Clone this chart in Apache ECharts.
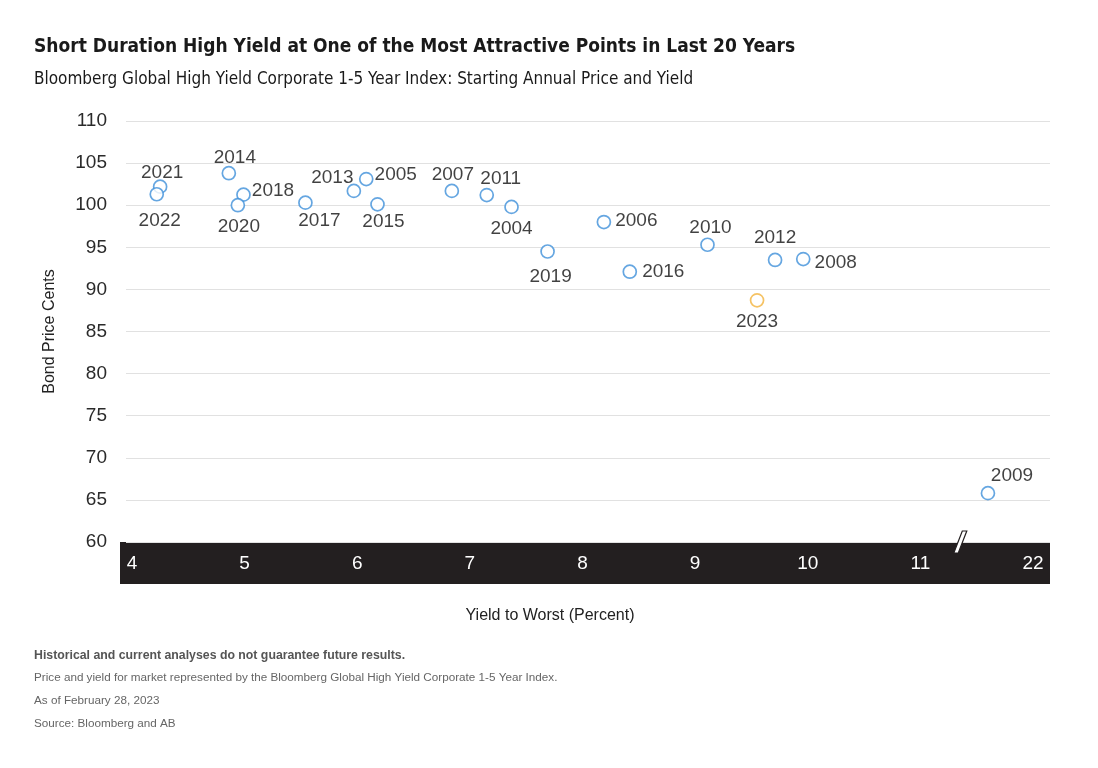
<!DOCTYPE html>
<html>
<head>
<meta charset="utf-8">
<script src="https://cdn.jsdelivr.net/npm/echarts@6/dist/echarts.min.js"></script>
<style>
html,body{margin:0;padding:0;background:#fff;}
#chart{width:1098px;height:768px;}
</style>
</head>
<body>
<div id="chart"></div>
<script>
// ---- data ----
const years   = [2004, 2005, 2006, 2007, 2008, 2009, 2010, 2011, 2012, 2013, 2014, 2015, 2016, 2017, 2018, 2019, 2020, 2021, 2022, 2023];
const yields  = [7.37, 6.08, 8.19, 6.84, 9.96, 21.6, 9.11, 7.15, 9.71, 5.97, 4.86, 6.18, 8.42, 5.54, 4.99, 7.69, 4.94, 4.25, 4.22, 9.55];
const prices  = [99.8, 103.1, 98.0, 101.7, 93.6, 65.8, 95.3, 101.2, 93.5, 101.7, 103.8, 100.1, 92.1, 100.3, 101.25, 94.5, 100.0, 102.2, 101.3, 88.7];
const xTickValues = [4, 5, 6, 7, 8, 9, 10, 11, 22];
const yTicks = {min: 60, max: 110, interval: 5};
const highlightYear = 2023;
// axis break: yields beyond breakAt are shifted left by breakShift
const breakAt = 11.35, breakShift = 10;

// label layout per year (presentation only)
const labelPlacement = {
  2004: {position: 'bottom', offset: [0, 4]},
  2005: {position: 'right', offset: [0, -4]},
  2006: {position: 'right', offset: [3, -1]},
  2007: {position: 'top', offset: [1, 2]},
  2008: {position: 'right', offset: [3, 4]},
  2009: {position: 'top', offset: [24, 0]},
  2010: {position: 'top', offset: [3, 1]},
  2011: {position: 'top', offset: [14, 2]},
  2012: {position: 'top', offset: [0, -4]},
  2013: {position: 'left', offset: [8, -13]},
  2014: {position: 'top', offset: [6, 2]},
  2015: {position: 'bottom', offset: [6, 0]},
  2016: {position: 'right', offset: [4, 0]},
  2017: {position: 'bottom', offset: [14, 0]},
  2018: {position: 'right', offset: [0, -4]},
  2019: {position: 'bottom', offset: [3, 7]},
  2020: {position: 'bottom', offset: [1, 4]},
  2021: {position: 'top', offset: [2, 4]},
  2022: {position: 'bottom', offset: [3, 9]},
  2023: {position: 'bottom', offset: [0, 4]}
};

const toAxis = v => v > breakAt ? v - breakShift : v;
const fromAxis = v => v > breakAt ? v + breakShift : v;

const BLUE = '#3f90da', ORANGE = '#f2b33c';
const seriesData = years.map((yr, i) => {
  const lp = labelPlacement[yr] || {position: 'top'};
  return {
    name: String(yr),
    value: [toAxis(yields[i]), prices[i]],
    itemStyle: {borderColor: yr === highlightYear ? ORANGE : BLUE},
    label: {position: lp.position, offset: lp.offset || [0, 0]}
  };
});

const chart = echarts.init(document.getElementById('chart'));
const gridLeft = 126, gridRight = 48, gridTop = 121, gridBottom = 226;
const SANS = '"Liberation Sans", Arial, sans-serif';
const COND = '"Liberation Sans Narrow", "DejaVu Sans Condensed", sans-serif';

const option = {
  animation: false,
  backgroundColor: '#ffffff',
  title: [
    {text: 'Short Duration High Yield at One of the Most Attractive Points in Last 20 Years', left: 29, top: 33,
     textStyle: {fontFamily: COND, fontWeight: 'bold', fontSize: 19, color: '#1a1a1a'}},
    {text: 'Bloomberg Global High Yield Corporate 1-5 Year Index: Starting Annual Price and Yield', left: 29, top: 66,
     textStyle: {fontFamily: COND, fontWeight: 'normal', fontSize: 17, color: '#1a1a1a'}}
  ],
  grid: {left: gridLeft, right: gridRight, top: gridTop, bottom: gridBottom, containLabel: false},
  xAxis: {
    type: 'value',
    min: 3.947, max: 12.151,
    z: 10,
    name: 'Yield to Worst (Percent)',
    nameLocation: 'middle',
    nameGap: 66,
    nameTextStyle: {fontFamily: SANS, fontSize: 16, color: '#222', padding: [0, 76, 0, 0]},
    axisLine: {show: false},
    axisTick: {show: false},
    splitLine: {show: false},
    axisLabel: {
      customValues: xTickValues.map(toAxis),
      formatter: v => String(Math.round(fromAxis(v))),
      color: '#ffffff', fontSize: 19, margin: 12,
      fontFamily: SANS
    }
  },
  yAxis: {
    type: 'value',
    min: yTicks.min, max: yTicks.max, interval: yTicks.interval,
    name: 'Bond Price Cents',
    nameLocation: 'middle',
    nameGap: 68,
    nameRotate: 90,
    nameTextStyle: {fontFamily: SANS, fontSize: 16, color: '#222'},
    axisLine: {show: false},
    axisTick: {show: false},
    splitLine: {lineStyle: {color: '#e1e1e1', width: 1}},
    axisLabel: {color: '#2a2a2a', fontSize: 19, margin: 19, fontFamily: SANS}
  },
  series: [{
    type: 'scatter',
    symbol: 'circle',
    symbolSize: 13,
    itemStyle: {color: '#ffffff', borderWidth: 1.7},
    label: {
      show: true,
      formatter: p => p.name,
      color: '#111', fontSize: 19, distance: 1,
      fontFamily: SANS
    },
    emphasis: {disabled: true},
    data: seriesData
  }]
};
chart.setOption(option);

// decorations: black axis band, break mark, footnotes
const p0 = chart.convertToPixel({gridIndex: 0}, [3.947, yTicks.min]);
const pb = chart.convertToPixel({gridIndex: 0}, [breakAt, yTicks.min]);
const bx = pb[0], by = p0[1];
chart.setOption({
  graphic: [
    {type: 'rect', z: -10, shape: {x: p0[0] - 6, y: by, width: 1098 - gridRight - (p0[0] - 6), height: 42}, style: {fill: '#231f20'}},
    {type: 'polygon', z: 100, shape: {points: [[bx - 6, by + 11], [bx - 1.5, by + 11], [bx + 7, by - 11], [bx + 2.5, by - 11]]},
     style: {fill: '#ffffff', stroke: '#231f20', lineWidth: 1.2}},
    {type: 'text', style: {x: 34, y: 656, text: 'Historical and current analyses do not guarantee future results.', font: 'bold 12.3px ' + SANS, fill: '#555', verticalAlign: 'middle'}},
    {type: 'text', style: {x: 34, y: 678, text: 'Price and yield for market represented by the Bloomberg Global High Yield Corporate 1-5 Year Index.', font: '11.7px ' + SANS, fill: '#666', verticalAlign: 'middle'}},
    {type: 'text', style: {x: 34, y: 701, text: 'As of February 28, 2023', font: '11.7px ' + SANS, fill: '#666', verticalAlign: 'middle'}},
    {type: 'text', style: {x: 34, y: 724, text: 'Source: Bloomberg and AB', font: '11.7px ' + SANS, fill: '#666', verticalAlign: 'middle'}}
  ]
});
</script>
</body>
</html>
